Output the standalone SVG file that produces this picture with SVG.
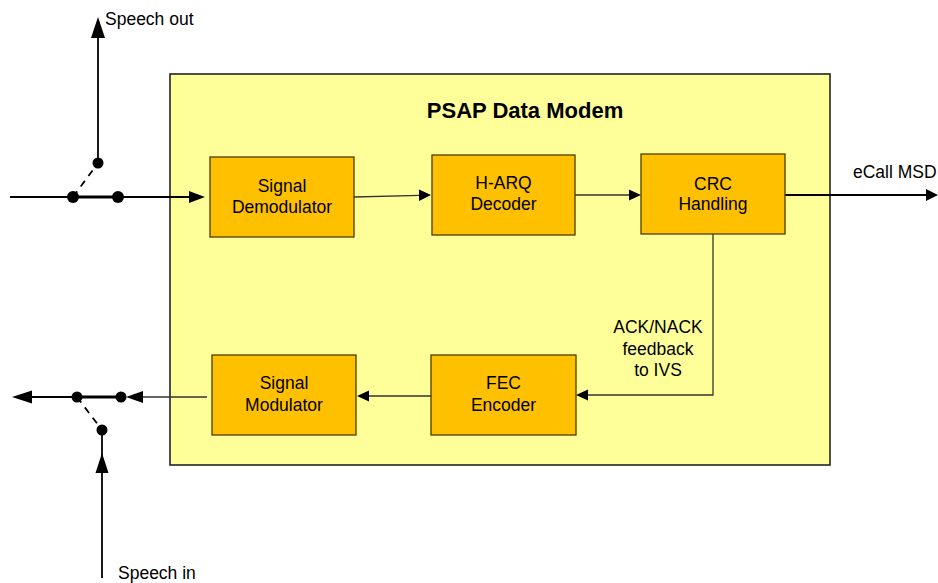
<svg xmlns="http://www.w3.org/2000/svg" width="938" height="583" viewBox="0 0 938 583">
<defs>
<style>
.t{font-family:"Liberation Sans",Arial,sans-serif;font-size:17.5px;fill:#000}
.c{text-anchor:middle}
.box{fill:#FFC000;stroke:#4d3d00;stroke-width:1.3}
.ln{stroke:#000;stroke-width:1.8;fill:none}
.lni{stroke:#333;stroke-width:1.3;fill:none}
.ah{fill:#000}
.dot{fill:#000}
</style>
</defs>
<rect width="938" height="583" fill="#fff"/>
<g id="modem">
<rect x="170" y="74" width="660" height="391" fill="#FFFF99" stroke="#222" stroke-width="1.6"/>
<text x="525" y="118" class="t c" style="font-weight:bold;font-size:22px">PSAP Data Modem</text>
</g>
<g id="connectors">
<!-- input path -->
<line x1="10" y1="197" x2="192" y2="197" class="ln"/>
<polygon points="205,197 189,191 189,203" class="ah"/>
<line x1="73" y1="197" x2="118" y2="197" stroke="#000" stroke-width="3"/>
<line x1="73" y1="197" x2="98" y2="163" stroke="#000" stroke-width="1.8" stroke-dasharray="7,6"/>
<line x1="98" y1="163" x2="98" y2="36" class="ln"/>
<polygon points="98,17 91,38 105,38" class="ah"/>
<!-- internal -->
<line x1="354" y1="197" x2="420" y2="195.3" class="lni"/>
<polygon points="431,195 419,189.5 419,201" class="ah"/>
<line x1="575" y1="195" x2="630" y2="195" class="lni"/>
<polygon points="641,195 629,189.5 629,200.5" class="ah"/>
<line x1="785" y1="195" x2="928" y2="195" class="ln"/>
<polygon points="938,195 926,189 926,201" class="ah"/>
<polyline points="713,234 713,395 588,395" class="lni"/>
<polygon points="576,395 588,389.5 588,400.5" class="ah"/>
<line x1="431" y1="396" x2="368" y2="396" class="lni"/>
<polygon points="357,396 369,390.5 369,401.5" class="ah"/>
<!-- output path -->
<line x1="207" y1="397" x2="140" y2="397" class="lni"/>
<polygon points="126,397 143,391 143,403" class="ah"/>
<line x1="77" y1="397" x2="122" y2="397" stroke="#000" stroke-width="3"/>
<line x1="77" y1="397" x2="30" y2="397" class="ln"/>
<polygon points="12,397 32,390.5 32,403.5" class="ah"/>
<line x1="77" y1="397" x2="102" y2="430" stroke="#000" stroke-width="1.8" stroke-dasharray="7,6"/>
<line x1="102" y1="430" x2="102" y2="578" class="ln"/>
<polygon points="102,453 95.5,473 108.5,473" class="ah"/>
<circle cx="73" cy="197" r="6" class="dot"/>
<circle cx="118" cy="197" r="6" class="dot"/>
<circle cx="98" cy="163" r="5.5" class="dot"/>
<circle cx="77" cy="397" r="5.5" class="dot"/>
<circle cx="121" cy="397" r="5.5" class="dot"/>
<circle cx="102" cy="430" r="5.5" class="dot"/>
<text x="105" y="25" class="t">Speech out</text>
<text x="118" y="579" class="t">Speech in</text>
<text x="853" y="178" class="t">eCall MSD</text>
<text class="t c"><tspan x="658" y="333">ACK/NACK</tspan><tspan x="658" y="355">feedback</tspan><tspan x="658" y="376">to IVS</tspan></text>
</g>
<g id="demod">
<rect x="210" y="157" width="144" height="80" class="box"/>
<text class="t c"><tspan x="282" y="192">Signal</tspan><tspan x="282" y="213">Demodulator</tspan></text>
</g>
<g id="harq">
<rect x="432" y="155" width="143" height="80" class="box"/>
<text class="t c"><tspan x="503.5" y="189">H-ARQ</tspan><tspan x="503.5" y="210">Decoder</tspan></text>
</g>
<g id="crc">
<rect x="641" y="154" width="144" height="80" class="box"/>
<text class="t c"><tspan x="713" y="190">CRC</tspan><tspan x="713" y="210">Handling</tspan></text>
</g>
<g id="mod">
<rect x="212" y="355" width="144" height="80" class="box"/>
<text class="t c"><tspan x="284" y="389">Signal</tspan><tspan x="284" y="411">Modulator</tspan></text>
</g>
<g id="fec">
<rect x="431" y="355" width="145" height="80" class="box"/>
<text class="t c"><tspan x="503.5" y="389">FEC</tspan><tspan x="503.5" y="411">Encoder</tspan></text>
</g>
</svg>
